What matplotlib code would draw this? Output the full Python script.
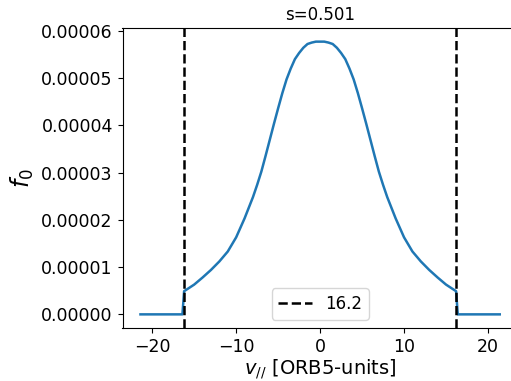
import numpy as np
import matplotlib
matplotlib.use('Agg')
import matplotlib.pyplot as plt

# half of the (symmetric) distribution, f0 in units of 1e-5
v_half = [0, 0.5, 1, 1.5, 2, 2.5, 3, 3.5, 4, 4.5, 5, 5.5, 6, 6.5, 7, 7.5, 8,
          9, 10, 11, 12, 13, 14, 15, 16.2]
f_half = [5.77, 5.77, 5.75, 5.72, 5.64, 5.53, 5.40, 5.20, 4.97, 4.68, 4.36, 4.03,
          3.69, 3.35, 3.02, 2.74, 2.48, 2.03, 1.63, 1.33, 1.12, 0.94, 0.78, 0.63, 0.49]
# outside the cut the distribution is zero
v_out = [16.4, 21.4]
f_out = [0.0, 0.0]

v_cut = 16.2
title = 's=0.501'

v_right = np.array(v_half + v_out)
f_right = np.array(f_half + f_out) * 1e-5
v = np.concatenate([-v_right[::-1], v_right[1:]])
f = np.concatenate([f_right[::-1], f_right[1:]])

fig = plt.figure(figsize=(5.11, 3.81), dpi=100)
ax = fig.add_axes([122.5 / 511, 53 / 381, (517.7 - 122.5) / 511, 300 / 381])

ax.plot(v, f, color='tab:blue', lw=1.8)
ax.axvline(-v_cut, color='k', ls='--', lw=1.8)
ax.axvline(v_cut, color='k', ls='--', lw=1.8, label=f'{v_cut}')

ax.set_xlabel(r'$v_{//}$ [ORB5-units]', fontsize=14, labelpad=1)
ax.set_ylabel(r'$f_0$', fontsize=17)
ax.set_title(title, fontsize=12)
ax.tick_params(labelsize=12.5)
ax.yaxis.set_major_formatter(matplotlib.ticker.FormatStrFormatter('%.5f'))
ax.legend(loc='lower center', fontsize=12)

fig.savefig('out.png', dpi=100)
